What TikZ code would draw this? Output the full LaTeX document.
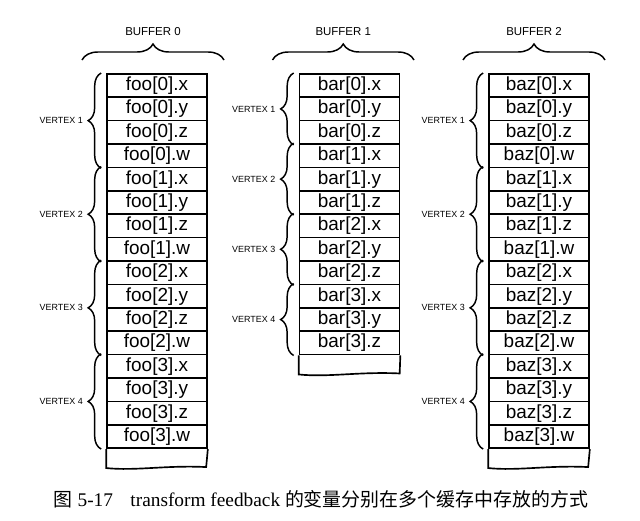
\documentclass[tikz,border=0pt]{standalone}
\usepackage{fontspec}
\setmainfont{Liberation Serif}
\newfontfamily\cjk{Noto Sans CJK SC}
\newfontfamily\arial{Liberation Sans}
\usetikzlibrary{decorations.pathreplacing}
\begin{document}
\begin{tikzpicture}[x=0.75pt,y=-0.75pt,line width=1.25pt,
  cell/.style={draw,minimum width=75pt,minimum height=17.55pt,inner sep=0pt,anchor=north,
    font=\arial\fontsize{14.2}{14.2}\selectfont},
  vbrace/.style={decorate,decoration={brace,amplitude=9.75pt},line width=1.1pt},
  hbrace/.style={decorate,decoration={brace,amplitude=12pt},line width=1.1pt},
  vlabel/.style={font=\arial\fontsize{6.7}{6.7}\selectfont,anchor=east,inner sep=0.5pt},
  blabel/.style={font=\arial\fontsize{8.6}{8.6}\selectfont,inner sep=0pt}]
\useasboundingbox (0,0) rectangle (640,521);

% cells of buffer 0 and buffer 2
\foreach \n in {0,...,3}{
  \foreach \c [count=\k from 0] in {x,y,z,w}{
    \pgfmathtruncatemacro\r{4*\n+\k}
    \node[cell] (foo\r) at (157,{73+23.4*\r}) {foo[\n].\c};
    \node[cell] (baz\r) at (539,{73+23.4*\r}) {baz[\n].\c};
  }}
% cells of buffer 1
\foreach \n in {0,...,3}{
  \foreach \c [count=\k from 0] in {x,y,z}{
    \pgfmathtruncatemacro\r{3*\n+\k}
    \node[cell] (bar\r) at (349.5,{73+23.4*\r}) {bar[\n].\c};
  }}

% empty rows with torn bottom
\draw (foo15.south west) -- ++(0,19) .. controls +(30,3) and +(-40,-2) .. ++(100,-1) -- (foo15.south east);
\draw (bar11.south west) -- ++(0,19) .. controls +(30,3) and +(-40,-2) .. ++(101,-1) -- (bar11.south east);
\draw (baz15.south west) -- ++(0,19) .. controls +(30,3) and +(-40,-2) .. ++(100,-1) -- (baz15.south east);

% vertex braces
\foreach \v [count=\j from 1] in {0,1,2,3}{
  \pgfmathtruncatemacro\a{4*\v}
  \pgfmathtruncatemacro\b{4*\v+3}
  \pgfmathtruncatemacro\p{3*\v}
  \pgfmathtruncatemacro\q{3*\v+2}
  \draw[vbrace] ([xshift=-3.75pt]foo\b.south west) -- ([xshift=-3.75pt]foo\a.north west)
     node[vlabel,midway,xshift=-12.75pt] (vf\j) {VERTEX \j};
  \draw[vbrace] ([xshift=-3.75pt]bar\q.south west) -- ([xshift=-3.75pt]bar\p.north west)
     node[vlabel,midway,xshift=-12.75pt] (vb\j) {VERTEX \j};
  \draw[vbrace] ([xshift=-3.75pt]baz\b.south west) -- ([xshift=-3.75pt]baz\a.north west)
     node[vlabel,midway,xshift=-12.75pt] (vz\j) {VERTEX \j};
}

% buffer braces
\draw[hbrace] (82,60) -- (224,60) node[blabel,midway,yshift=21.2pt] (b0) {BUFFER 0};
\draw[hbrace] (272.5,60) -- (414,60) node[blabel,midway,yshift=21.2pt] (b1) {BUFFER 1};
\draw[hbrace] (463,60) -- (605,60) node[blabel,midway,yshift=21.2pt] (b2) {BUFFER 2};

% caption
\node[anchor=base west,inner sep=0pt,font=\fontsize{14.5}{14.5}\selectfont] (cap) at (53,506)
  {{\cjk\fontsize{14.2}{14.2}\selectfont 图} 5-17\hspace{0.9em}transform feedback {\cjk\fontsize{14.2}{14.2}\selectfont 的变量分别在多个缓存中存放的方式}};
\end{tikzpicture}
\end{document}
